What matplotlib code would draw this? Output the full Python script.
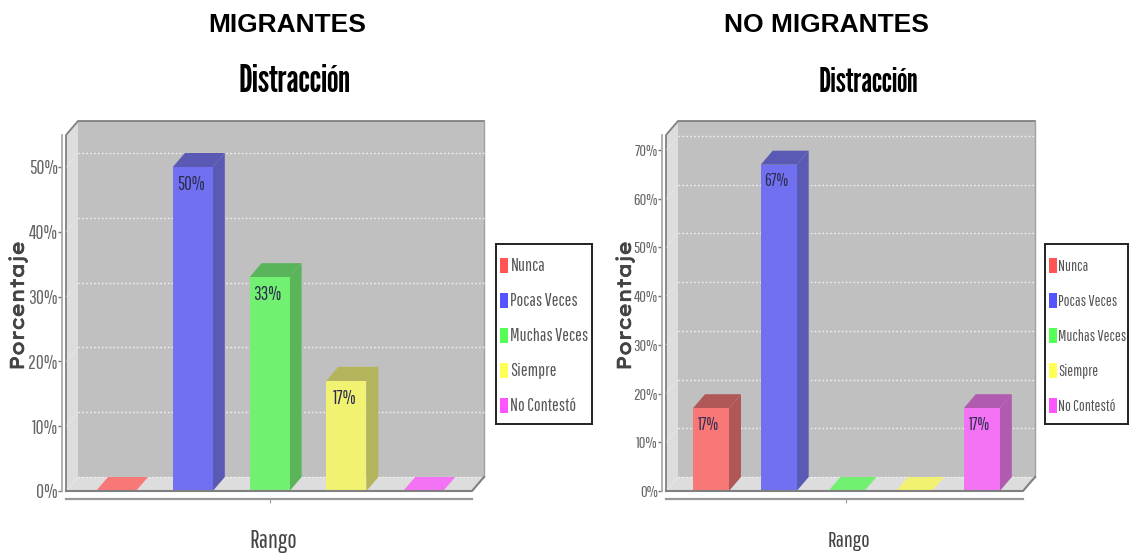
import matplotlib
matplotlib.use('Agg')
import matplotlib.pyplot as plt
import matplotlib.patheffects as pe
from matplotlib.patches import Polygon, Rectangle
from matplotlib.transforms import ScaledTranslation
import logging
logging.getLogger('matplotlib.font_manager').setLevel(logging.ERROR)

categories = ['Nunca', 'Pocas Veces', 'Muchas Veces', 'Siempre', 'No Contestó']
migrantes = [0, 50, 33, 17, 0]
no_migrantes = [17, 67, 0, 0, 17]
ticks_mig = [0, 10, 20, 30, 40, 50]
ticks_nomig = [0, 10, 20, 30, 40, 50, 60, 70]

colors = ['#f87878', '#7070f0', '#72f072', '#f2f272', '#f472f4']
side_colors = ['#b05858', '#5a5ab4', '#5ab45a', '#b4b45a', '#b05ab0']
legend_colors = ['#ff5555', '#5555ff', '#55ff55', '#ffff55', '#ff55ff']

W, H = 1131, 555
DX, DY = 12, 14  # 3d depth in pixels

narrow = ['Pathway Gothic One', 'Sofia Sans Extra Condensed', 'Fira Sans Extra Condensed', 'DejaVu Sans']
title_font = ['League Gothic', 'Anton', 'Fira Sans Extra Condensed', 'DejaVu Sans']
wide = ['Lexend Exa', 'Krona One', 'DejaVu Sans']

fig = plt.figure(figsize=(W / 100, H / 100), dpi=100)


def px_axes(left, right, top, bottom):
    return fig.add_axes([left / W, 1 - bottom / H, (right - left) / W, (bottom - top) / H])


def draw_chart(values, yticks, left, right, zero_y, top_y, y_per, first_x, step, bar_w,
               header, header_x, title_x, title_size, ylabel_x, legend_x, legend_w, legend_size, legend_text_x, rango_x, scale, tick_size):
    ax = px_axes(left, right, top_y, zero_y)
    ax.set_ylim(0, (zero_y - top_y) / y_per)
    ax.set_xlim(-(first_x - left) / step, (right - first_x) / step)
    ax.patch.set_alpha(0)
    for s in ax.spines.values():
        s.set_visible(False)
    depth = ScaledTranslation(DX / 100, DY / 100, fig.dpi_scale_trans)
    back = ax.transData + depth
    x0, x1 = ax.get_xlim()
    y1 = ax.get_ylim()[1]
    dx = DX / step
    dy = DY / y_per

    # back wall, side wall, floor
    ax.add_patch(Rectangle((x0, 0), x1 - x0, y1, transform=back, fc='#c0c0c0', ec='none', clip_on=False, zorder=1))
    ax.add_patch(Polygon([(x0, 0), (x0 + dx, dy), (x0 + dx, y1 + dy), (x0, y1)], fc='#dddddd', ec='none', clip_on=False, zorder=1))
    ax.add_patch(Polygon([(x0, 0), (x1, 0), (x1 + dx, dy), (x0 + dx, dy)], fc='#dddddd', ec='none', clip_on=False, zorder=1))
    ax.plot([x0, x0, x0 + dx, x1 + dx], [0, y1, y1 + dy, y1 + dy], color='#808080', lw=1.3, clip_on=False, zorder=2)
    ax.plot([x0, x1, x1 + dx], [0, 0, dy], color='#808080', lw=1.5, clip_on=False, zorder=6)
    ax.plot([x1 + dx, x1 + dx], [dy, y1 + dy], color='#a0a0a0', lw=1, clip_on=False, zorder=2)
    for t in yticks:
        ax.plot([x0, x1], [t, t], transform=back, color='#f0f0f0', lw=1, ls=(0, (1.2, 1.6)), clip_on=False, zorder=2)
        ax.plot([x0, x0 + dx], [t, t + dy], color='white', lw=0.6, ls=(0, (1.2, 1.6)), alpha=0.6, clip_on=False, zorder=2)

    # bars
    w = bar_w / step
    for i, v in enumerate(values):
        l, r = i - w / 2, i + w / 2
        ax.add_patch(Polygon([(r, 0), (r + dx, dy), (r + dx, v + dy), (r, v)], fc=side_colors[i], ec='none', zorder=3, clip_on=False))
        ax.add_patch(Polygon([(l, v), (r, v), (r + dx, v + dy), (l + dx, v + dy)],
                             fc=side_colors[i] if v > 0 else colors[i], ec='none', zorder=3, clip_on=False))
        ax.add_patch(Rectangle((l, 0), r - l, v, fc=colors[i], ec='none', zorder=4))
        if v > 0:
            ax.annotate(f'{v}%', (i, v), xytext=(-1.5, -6), textcoords='offset points', ha='center', va='top',
                        fontsize=13.5 * scale, family=narrow, color='#2c2c50', zorder=5)

    # axis lines sit outside the plot box, set_position resets ticks so do it first
    ax.spines['left'].set_visible(True)
    ax.spines['left'].set_position(('outward', 3))
    ax.spines['left'].set_color('#aaaaaa')
    ax.spines['left'].set_linewidth(1.3)
    ax.spines['bottom'].set_visible(True)
    ax.spines['bottom'].set_position(('outward', 6))
    ax.spines['bottom'].set_color('#999999')
    ax.spines['bottom'].set_linewidth(1.6)
    ax.set_xticks([2])
    ax.set_xticklabels([''])
    ax.tick_params(axis='x', length=3, width=0.8, color='#999999')
    ax.set_yticks(yticks)
    ax.set_yticklabels([f'{t}%' for t in yticks], fontsize=tick_size, family=narrow, color='#666666')
    ax.tick_params(axis='y', length=3, width=1, color='#777777', pad=0)

    # texts
    fig.text(header_x / W, 1 - 25 / H, header, ha='center', va='center', fontsize=19, fontweight='bold', family='Liberation Sans')
    fig.text(title_x / W, 1 - 82 / H, 'Distracción', ha='center', va='center', fontsize=title_size, fontweight='bold', family=title_font)
    # the wide font has no bold face here, so thicken it with a stroke
    fig.text(ylabel_x / W, 1 - 306 / H, 'Porcentaje', rotation=90, ha='center', va='center', fontsize=14, family=wide, color='#444444',
             path_effects=[pe.withStroke(linewidth=0.6, foreground='#444444')])
    fig.text(rango_x / W, 1 - 541 / H, 'Rango', ha='center', va='center', fontsize=18 * scale, family=narrow, color='#444444')

    # legend box, 35 px per row
    box = px_axes(legend_x, legend_x + legend_w, 244, 424)
    box.set_xlim(0, legend_w)
    box.set_ylim(-0.6 + 180 / 35, -0.6)
    box.set_xticks([])
    box.set_yticks([])
    for s in box.spines.values():
        s.set_linewidth(1.4)
        s.set_color('#222222')
    for i, name in enumerate(categories):
        box.add_patch(Rectangle((4, i - 0.21), 7.5, 0.43, fc=legend_colors[i], ec='none'))
        box.text(legend_text_x, i + 0.03, name, va='center', ha='left', fontsize=legend_size, family=narrow, color='#555555')


draw_chart(migrantes, ticks_mig, 66, 472, 491, 135, 6.48, 116, 76.8, 40,
           'MIGRANTES', 287, 295, 27, 18, 496, 96, 12.8, 14.5, 273, 1.0, 14)
draw_chart(no_migrantes, ticks_nomig, 666, 1023, 491, 135, 4.87, 711, 67.7, 36,
           'NO MIGRANTES', 826, 868, 24, 625, 1045, 83, 11.2, 13, 849, 0.9, 11.8)

fig.savefig('out.png', dpi=100)
